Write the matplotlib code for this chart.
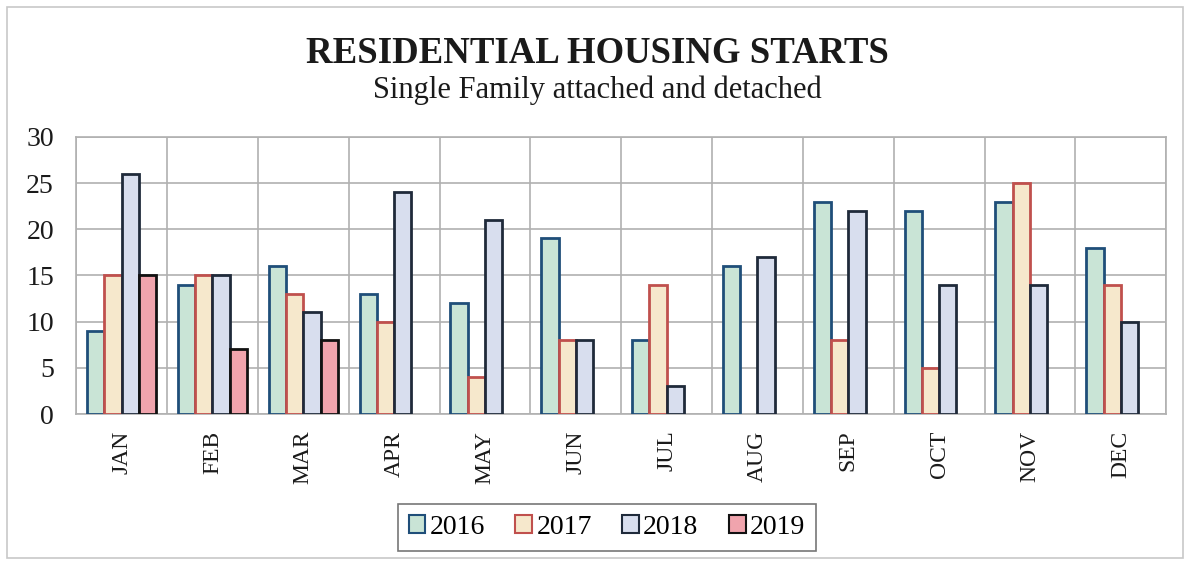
import numpy as np
import matplotlib
matplotlib.use('Agg')
import matplotlib.pyplot as plt
from matplotlib.patches import Rectangle

months = ['JAN', 'FEB', 'MAR', 'APR', 'MAY', 'JUN', 'JUL', 'AUG', 'SEP', 'OCT', 'NOV', 'DEC']
years = ['2016', '2017', '2018', '2019']
starts_2016 = [9, 14, 16, 13, 12, 19, 8, 16, 23, 22, 23, 18]
starts_2017 = [15, 15, 13, 10, 4, 8, 14, 0, 8, 5, 25, 14]
starts_2018 = [26, 15, 11, 24, 21, 8, 3, 17, 22, 14, 14, 10]
starts_2019 = [15, 7, 8, 0, 0, 0, 0, 0, 0, 0, 0, 0]

fills = ['#c9e4d6', '#f6e8cc', '#d8deee', '#f0a4ad']
edges = ['#1f4e79', '#c0504d', '#1f2a3a', '#111111']

plt.rcParams['font.family'] = ['Liberation Serif', 'DejaVu Serif']

fig = plt.figure(figsize=(11.9, 5.61), dpi=100)
ax = fig.add_axes([0.064, 0.262, 0.916, 0.494])

x = np.arange(len(months))
w = 0.19
series = [starts_2016, starts_2017, starts_2018, starts_2019]
handles = []
for k, vals in enumerate(series):
    pos = x + (k - 1.5) * w
    vals = np.array(vals, dtype=float)
    mask = vals > 0
    b = ax.bar(pos[mask], vals[mask], w, color=fills[k], edgecolor=edges[k],
               linewidth=2, zorder=3, label=years[k])
    handles.append(b)

ax.set_xlim(-0.5, 11.5)
ax.set_ylim(0, 30)
ax.set_yticks(range(0, 31, 5))
ax.set_xticks(x)
ax.set_xticklabels(months, rotation=90, fontsize=17)
ax.tick_params(axis='y', labelsize=20, length=0, pad=16, colors='#1a1a1a')
ax.tick_params(axis='x', length=0, pad=12, colors='#1a1a1a')

# gridlines at category borders and every 5
for b in np.arange(-0.5, 12, 1):
    ax.axvline(b, color='#b0b0b0', linewidth=1.2, zorder=1)
ax.yaxis.grid(True, color='#b0b0b0', linewidth=1.2, zorder=1)
ax.set_axisbelow(True)
for s in ax.spines.values():
    s.set_color('#b0b0b0')
    s.set_linewidth(1.2)

fig.text(0.502, 0.905, 'RESIDENTIAL HOUSING STARTS', ha='center', va='center',
         fontsize=26.5, fontweight='bold', color='#1a1a1a')
fig.text(0.502, 0.84, 'Single Family attached and detached', ha='center', va='center',
         fontsize=22, color='#1a1a1a')

leg = fig.legend(handles=handles, labels=years, loc='center', ncol=4,
                 bbox_to_anchor=(0.51, 0.06), fontsize=20, frameon=True,
                 fancybox=False, edgecolor='#555555', handlelength=0.6,
                 handleheight=0.6, handletextpad=0.15, columnspacing=1.1,
                 borderpad=0.4)
leg.get_frame().set_linewidth(1.2)
for h in leg.legend_handles:
    h.set_linewidth(1.5)

fig.add_artist(Rectangle((0.006, 0.006), 0.988, 0.982, transform=fig.transFigure,
                         fill=False, edgecolor='#c8c8c8', linewidth=1.2))

fig.savefig('out.png', dpi=100)
